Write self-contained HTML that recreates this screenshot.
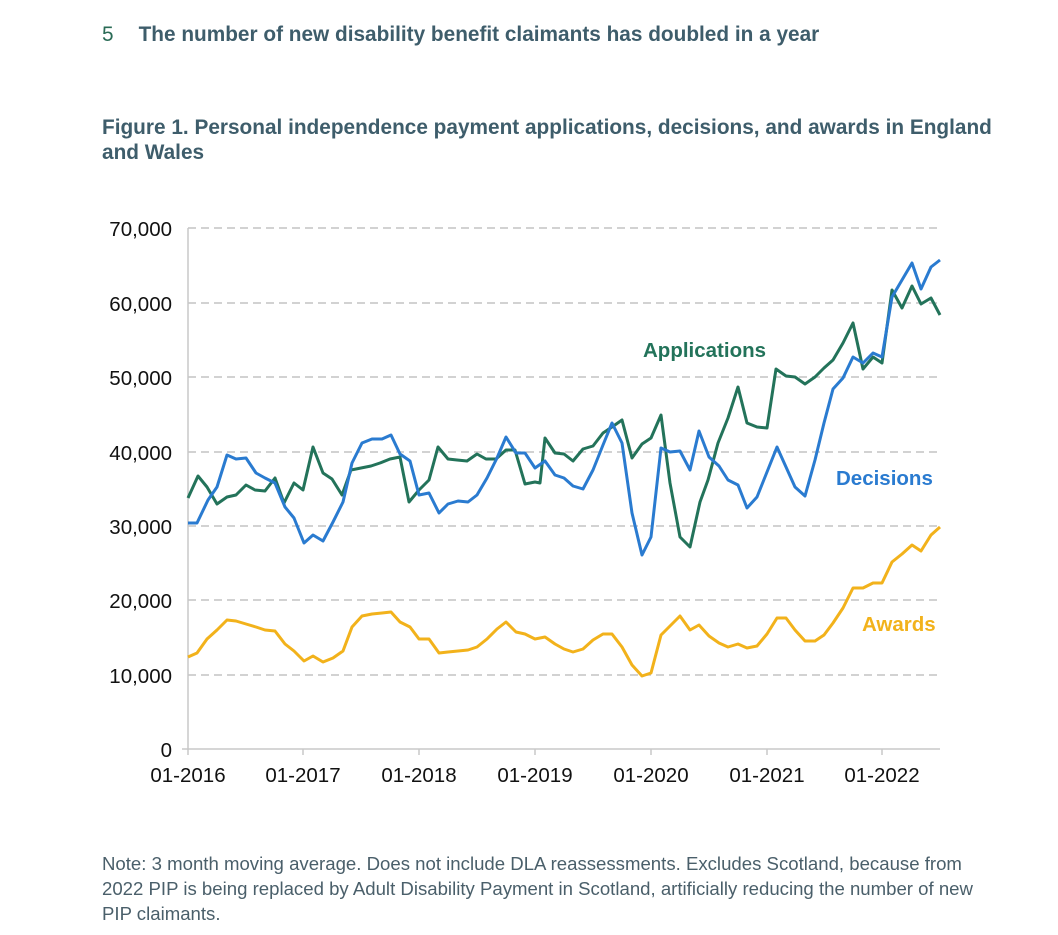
<!DOCTYPE html>
<html><head><meta charset="utf-8"><style>
body{margin:0;width:1058px;height:935px;background:#fff;overflow:hidden;font-family:"Liberation Sans",Arial,sans-serif}
.t{position:absolute;color:#3e5d6b;font-weight:bold}
</style></head><body>
<div class="t" style="left:102px;top:23px;font-size:20.8px;white-space:nowrap"><span style="color:#2a6b56;font-weight:normal">5</span><span style="margin-left:25px">The number of new disability benefit claimants has doubled in a year</span></div>
<div class="t" style="left:102px;top:115px;font-size:20.8px;line-height:25px;width:905px">Figure 1. Personal independence payment applications, decisions, and awards in England and Wales</div>
<div style="position:absolute;left:102px;top:851px;font-size:18.6px;line-height:25px;color:#4a5f6a;width:880px">Note: 3 month moving average. Does not include DLA reassessments. Excludes Scotland, because from 2022 PIP is being replaced by Adult Disability Payment in Scotland, artificially reducing the number of new PIP claimants.</div>
<svg width="1058" height="935" style="position:absolute;left:0;top:0">
<g stroke="#c4c4c4" stroke-width="1.5" stroke-dasharray="8,5">
<line x1="188" x2="940" y1="228" y2="228"/><line x1="188" x2="940" y1="303" y2="303"/><line x1="188" x2="940" y1="377" y2="377"/><line x1="188" x2="940" y1="452" y2="452"/><line x1="188" x2="940" y1="526" y2="526"/><line x1="188" x2="940" y1="600" y2="600"/><line x1="188" x2="940" y1="675" y2="675"/>
</g>
<g stroke="#c8c8c8" stroke-width="1.5">
<line x1="188" x2="188" y1="228" y2="750"/><line x1="182" x2="940" y1="749" y2="749"/>
<line x1="188" x2="188" y1="749" y2="755"/><line x1="303" x2="303" y1="749" y2="755"/><line x1="419" x2="419" y1="749" y2="755"/><line x1="535" x2="535" y1="749" y2="755"/><line x1="651" x2="651" y1="749" y2="755"/><line x1="767" x2="767" y1="749" y2="755"/><line x1="882" x2="882" y1="749" y2="755"/>
</g>
<g font-size="20.5" fill="#111" text-anchor="end" font-family="Liberation Sans,Arial,sans-serif">
<text x="172" y="236">70,000</text><text x="172" y="311">60,000</text><text x="172" y="385">50,000</text><text x="172" y="460">40,000</text><text x="172" y="534">30,000</text><text x="172" y="608">20,000</text><text x="172" y="683">10,000</text><text x="172" y="757">0</text>
</g>
<g font-size="20.5" fill="#111" text-anchor="middle" font-family="Liberation Sans,Arial,sans-serif">
<text x="188" y="782">01-2016</text><text x="303" y="782">01-2017</text><text x="419" y="782">01-2018</text><text x="535" y="782">01-2019</text><text x="651" y="782">01-2020</text><text x="767" y="782">01-2021</text><text x="882" y="782">01-2022</text>
</g>
<g fill="none" stroke-width="3" stroke-linejoin="round">
<polyline stroke="#f2b21b" points="188,657 197,653 207,639 217,630 227,620 236,621 246,624 256,627 265,630 275,631 285,644 294,651 304,661 313,656 323,662 333,658 343,651 352,627 362,616 372,614 382,613 391,612 400,622 410,627 419,639 429,639 439,653 448,652 458,651 468,650 477,647 487,639 497,629 506,622 516,632 525,634 535,639 545,637 555,644 564,649 573,652 583,649 593,640 603,634 612,634 622,647 632,665 642,676 651,673 661,635 670,626 680,616 690,630 699,625 709,636 719,643 728,647 738,644 747,648 757,646 767,634 777,618 786,618 795,630 805,641 815,641 824,635 833,623 843,608 853,588 863,588 873,583 882,583 892,562 902,554 912,545 921,551 931,535 940,527"/>
<polyline stroke="#23735a" points="188,498 198,476 207,487 217,504 227,497 236,495 246,485 255,490 265,491 275,478 284,503 294,483 303,490 313,447 323,473 332,479 342,495 351,470 361,468 371,466 380,463 390,459 400,457 409,502 419,490 429,480 438,447 448,459 457,460 467,461 477,454 486,459 496,459 506,450 515,450 525,484 535,482 540,483 545,438 555,453 564,454 573,461 583,449 593,446 603,433 612,427 622,420 632,458 642,444 651,438 661,415 670,483 680,537 690,547 700,502 708,480 718,443 728,418 738,387 747,423 757,427 767,428 776,369 786,376 795,377 805,384 815,377 824,368 833,360 843,343 853,323 863,369 873,357 882,363 892,290 902,308 912,286 921,304 931,298 940,315"/>
<polyline stroke="#2a7bd0" points="188,523 197,523 208,500 217,487 227,455 236,459 246,458 256,473 265,478 275,483 285,507 294,518 304,543 313,535 323,541 333,522 343,502 352,463 362,443 372,439 382,439 391,435 400,454 410,461 419,495 429,493 439,513 448,504 458,501 468,502 477,495 487,478 497,458 506,437 516,453 525,453 535,468 545,461 555,475 564,478 573,486 583,489 593,470 603,445 612,423 622,443 632,513 642,555 651,537 661,448 670,452 680,451 690,470 699,431 709,457 719,466 728,480 738,485 747,508 757,497 767,472 777,447 786,467 795,487 805,496 815,460 824,423 833,389 843,378 853,357 863,363 873,353 882,357 892,297 902,280 912,263 921,289 931,267 940,260"/>
</g>
<g font-size="20.5" font-weight="bold" font-family="Liberation Sans,Arial,sans-serif">
<text x="643" y="357" fill="#23735a">Applications</text>
<text x="836" y="485" fill="#2a7bd0">Decisions</text>
<text x="862" y="631" fill="#f2b21b">Awards</text>
</g>
</svg>
</body></html>
